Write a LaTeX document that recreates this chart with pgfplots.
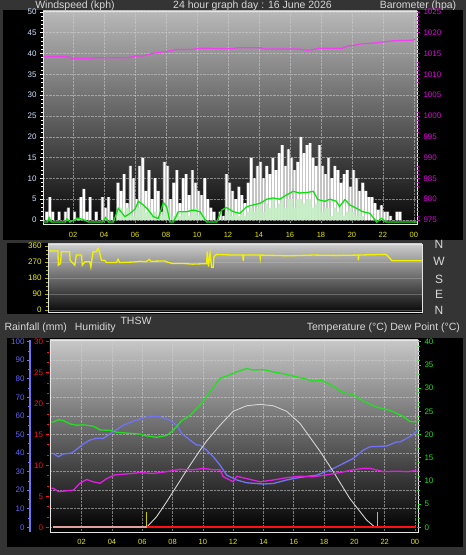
\documentclass[border=0pt]{standalone}
\usepackage{pgfplots}
\pgfplotsset{compat=1.18}
\usepackage{fontspec}
\setmainfont{Liberation Sans}
\definecolor{frame}{HTML}{343434}
\definecolor{txt}{HTML}{D8D8D8}
\definecolor{hourY}{HTML}{E8E800}
\definecolor{windlbl}{HTML}{D0E4FF}
\definecolor{baro}{HTML}{F040F0}
\definecolor{barolbl}{HTML}{E000E0}
\definecolor{avg}{HTML}{10E010}
\definecolor{speed}{HTML}{C4EEC4}
\definecolor{gustgray}{HTML}{C4C4C4}
\definecolor{dir}{HTML}{F2F200}
\definecolor{dirtick}{HTML}{B0B000}
\definecolor{hum}{HTML}{7272F2}
\definecolor{humlbl}{HTML}{6464FF}
\definecolor{rain}{HTML}{FF1010}
\definecolor{rainpale}{HTML}{E0A0A0}
\definecolor{temp}{HTML}{20E020}
\definecolor{dew}{HTML}{E020E0}
\definecolor{thsw}{HTML}{D4D4D4}
\definecolor{sun}{HTML}{C8C800}
\definecolor{bgtop}{HTML}{B8B8B8}
\definecolor{bgbot}{HTML}{080808}
\definecolor{gridc}{HTML}{D0D0D0}
\pgfplotsset{
  base/.style={
    scale only axis, anchor=south west,
    /pgf/number format/assume math mode=true,
    /pgf/number format/1000 sep={},
    tick label style={font=\fontsize{8}{8}\selectfont},
  },
}
\begin{document}
\begin{tikzpicture}
\useasboundingbox (0pt,0pt) rectangle (466pt,555pt);
\fill[frame] (0pt,0pt) rectangle (466pt,555pt);
\begin{scope}[font=\fontsize{10.5}{12}\selectfont, text=txt]
\node[anchor=base] at (75pt,546.3pt) {Windspeed (kph)};
\node[anchor=base] at (252.5pt,546.3pt) {24 hour graph day : 16 June 2026};
\node[anchor=base] at (418pt,546.3pt) {Barometer (hpa)};
\end{scope}
\fill[black] (3pt,315pt) rectangle (463pt,545pt);
\fill[black] (7pt,241pt) rectangle (422pt,312pt);
\fill[black] (7pt,8pt) rectangle (463pt,217pt);

% ---------------- Panel 1: wind ----------------
\begin{axis}[base,
  at={(43pt,331pt)}, width=374pt, height=213pt,
  xmin=0.06, xmax=24.2, ymin=-0.96, ymax=50.24,
  axis background/.style={top color=bgtop, bottom color=bgbot},
  axis line style={draw=white!90!black, line width=0.8pt},
  xtick={2,4,...,24}, xticklabels={02,04,06,08,10,12,14,16,18,20,22,00},
  xticklabel style={text=hourY, font=\fontsize{7.5}{8}\selectfont, yshift=-1.5pt},
  x tick style={draw=none}, xtick pos=bottom,
  ytick={0,5,...,50}, minor y tick num=4, ytick pos=left,
  yticklabel style={text=windlbl},
  tick align=outside, major tick length=3pt, minor tick length=2pt,
  y tick style={draw=white, line width=0.6pt},
  grid=major,
  major grid style={densely dotted, gridc, opacity=0.55, line width=0.6pt},
]
\addplot[const plot, draw=none, fill=gustgray] coordinates {
(0,0) (0.2,2) (0.4,5.5) (0.6,2) (0.8,0) (1.0,2) (1.2,0) (1.4,2) (1.6,3) (1.8,0) (2.0,2) (2.2,0.5) (2.4,5.5) (2.6,7.5) (2.8,2) (3.0,5.5) (3.2,0) (3.4,2) (3.6,0) (3.8,5.5) (4.0,3) (4.2,5.5) (4.4,2) (4.6,0) (4.8,9) (5.0,7) (5.2,11) (5.4,4) (5.6,13) (5.8,10) (6.0,5) (6.2,13) (6.4,15) (6.6,7) (6.8,12) (7.0,5) (7.2,10) (7.4,7) (7.6,2) (7.8,14) (8.0,13) (8.2,5) (8.4,9) (8.6,12) (8.8,4) (9.0,10) (9.2,11) (9.4,6) (9.6,12) (9.8,9) (10.0,7) (10.2,6) (10.4,10) (10.6,5) (10.8,3) (11.0,2) (11.2,0) (11.4,2) (11.6,1) (11.8,11) (12.0,9) (12.2,7) (12.4,5) (12.6,8) (12.8,6) (13.0,4) (13.2,9) (13.4,15) (13.6,10) (13.8,13) (14.0,14) (14.2,10) (14.4,13) (14.6,11) (14.8,15) (15.0,12) (15.2,16) (15.4,18) (15.6,13) (15.8,17) (16.0,15) (16.2,12) (16.4,14) (16.6,20) (16.8,16) (17.0,18) (17.2,18.5) (17.4,15) (17.6,13) (17.8,18) (18.0,13) (18.2,11) (18.4,15) (18.6,10) (18.8,13) (19.0,12) (19.2,9) (19.4,11) (19.6,12) (19.8,8) (20.0,12) (20.2,10) (20.4,7) (20.6,9) (20.8,7) (21.0,5.5) (21.2,5.5) (21.4,4) (21.6,2.5) (21.8,3.5) (22.0,2) (22.2,2) (22.4,1) (22.6,0) (22.8,2) (23.0,2) (23.2,0) (24.0,0)
} \closedcycle;
\addplot[ycomb, white, line width=1.6pt] coordinates {
(0.3,2) (0.5,5.5) (0.7,2) (1.1,2) (1.5,2) (1.7,3) (2.1,2) (2.5,5.5) (2.7,7.5) (2.9,2) (3.1,5.5) (3.5,2) (3.9,5.5) (4.1,3) (4.3,5.5) (4.5,2) (4.9,9) (5.1,7) (5.3,11) (5.5,4) (5.7,13) (5.9,10) (6.1,5) (6.3,13) (6.5,15) (6.7,7) (6.9,12) (7.1,5) (7.3,10) (7.5,7) (7.7,2) (7.9,14) (8.1,13) (8.3,5) (8.5,9) (8.7,12) (8.9,4) (9.1,10) (9.3,11) (9.5,6) (9.7,12) (9.9,9) (10.1,7) (10.3,6) (10.5,10) (10.7,5) (10.9,3) (11.1,2) (11.5,2) (11.7,1) (11.9,11) (12.1,9) (12.3,7) (12.5,5) (12.7,8) (12.9,6) (13.1,4) (13.3,9) (13.5,15) (13.7,10) (13.9,13) (14.1,14) (14.3,10) (14.5,13) (14.7,11) (14.9,15) (15.1,12) (15.3,16) (15.5,18) (15.7,13) (15.9,17) (16.1,15) (16.3,12) (16.5,14) (16.7,20) (16.9,16) (17.1,18) (17.3,18.5) (17.5,15) (17.7,13) (17.9,18) (18.1,13) (18.3,11) (18.5,15) (18.7,10) (18.9,13) (19.1,12) (19.3,9) (19.5,11) (19.7,12) (19.9,8) (20.1,12) (20.3,10) (20.5,7) (20.7,9) (20.9,7) (21.1,5.5) (21.3,5.5) (21.5,4) (21.7,2.5) (21.9,3.5) (22.1,2) (22.3,2) (22.5,1) (22.9,2) (23.1,2)
};
\addplot[const plot, draw=none, fill=speed, fill opacity=0.9] coordinates {
(0,0) (4.0,0.5) (4.2,0) (4.8,2) (5.0,3) (5.2,1) (5.4,3) (5.6,2) (5.8,1) (6.0,3) (6.2,3) (6.4,4) (6.6,2) (6.8,3) (7.0,1) (7.2,2) (7.4,0) (7.6,1) (7.8,3) (8.0,3) (8.2,0) (8.4,1) (8.6,2) (8.8,1) (9.0,2) (9.2,2) (9.4,1) (9.6,2) (9.8,3) (10.0,1) (10.2,2) (10.4,1) (10.6,0) (11.8,2) (12.0,2) (12.2,1) (12.4,2) (12.6,1) (12.8,2) (13.0,1) (13.2,2) (13.4,3) (13.6,2) (13.8,3) (14.0,4) (14.2,2) (14.4,4) (14.6,3) (14.8,5) (15.0,3) (15.2,4) (15.4,5) (15.6,3) (15.8,5) (16.0,5) (16.2,3) (16.4,5) (16.6,5) (16.8,4) (17.0,5) (17.2,5) (17.4,3) (17.6,4) (17.8,5) (18.0,2) (18.2,3) (18.4,3) (18.6,1) (18.8,3) (19.0,2) (19.2,3) (19.4,1) (19.6,2) (19.8,3) (20.0,2) (20.2,1) (20.4,2) (20.6,1) (20.8,0) (24,0)
} \closedcycle;
\addplot[avg, line width=1.3pt] coordinates {
(0.06,-0.5) (0.35,-0.5) (0.45,0.6) (0.6,-0.5) (1.5,-0.5) (1.6,0.3) (1.8,-0.5) (2.3,0.4) (2.6,0.2) (3.0,-0.5) (3.9,-0.5) (4.1,0.6) (4.3,-0.5) (4.6,-0.5) (4.92,2.8) (5.35,0.8) (5.68,1.6) (6.0,2.6) (6.22,4.5) (6.54,3.6) (6.86,2.4) (7.18,0.8) (7.5,0.4) (7.83,4.2) (8.04,3.2) (8.26,-0.5) (8.47,-0.5) (8.8,2) (9.33,2) (9.76,2.4) (10.19,2) (10.62,-0.5) (11.27,-0.5) (11.6,2.4) (11.9,3) (12.34,2) (12.77,1.6) (13.2,3.2) (13.6,3.6) (14.06,4) (14.5,5) (14.9,5.3) (15.35,5) (15.68,5.8) (16.2,6.9) (16.6,6.5) (17.1,6.6) (17.5,6.9) (17.8,4.9) (18.26,4.5) (18.58,5) (19.0,4.5) (19.2,3.2) (19.55,4.9) (19.87,3.6) (20.3,2.8) (20.7,2) (21.16,1.6) (21.6,-0.5) (21.9,0.4) (22.2,-0.5) (24.2,-0.5)
};
\end{axis}
\begin{axis}[base,
  at={(43pt,331pt)}, width=374pt, height=213pt,
  xmin=0.06, xmax=24.2, ymin=974.04, ymax=1025.24,
  axis y line*=right, hide x axis, y axis line style={draw=none},
  ytick={975,980,...,1025}, minor y tick num=4,
  tick align=outside, major tick length=3pt, minor tick length=2pt,
  y tick style={draw=barolbl, line width=0.6pt},
  yticklabel style={text=barolbl},
]
\addplot[baro, line width=1.2pt] coordinates {
(0.08,1014.3) (1.6,1014.3) (1.9,1013.9) (2.9,1013.8) (3.5,1014.0) (5.5,1014.0) (6.0,1014.4) (6.5,1014.4) (7.2,1015.1) (8.0,1015.5) (8.7,1016.0) (9.6,1016.0) (10.2,1016.3) (10.8,1016.3) (11.0,1016.2) (12.3,1016.2) (12.6,1016.4) (14.1,1016.4) (14.4,1016.1) (16.6,1016.1) (17.1,1015.8) (17.4,1015.9) (17.9,1016.3) (19.4,1016.3) (19.8,1016.9) (20.2,1017.0) (20.5,1017.3) (21.6,1017.6) (22.7,1018.1) (23.9,1018.2) (24.1,1018.5)
};
\end{axis}

% ---------------- Panel 2: wind direction ----------------
\begin{axis}[base,
  at={(48pt,243pt)}, width=374pt, height=68pt,
  xmin=0, xmax=24, ymin=-11.25, ymax=371.25,
  axis background/.style={top color=white!80!black, bottom color=bgbot},
  axis line style={draw=white!90!black, line width=0.8pt},
  xtick=\empty,
  ytick={0,90,...,360}, minor y tick num=3, ytick pos=left,
  tick align=outside, major tick length=3pt, minor tick length=2pt,
  y tick style={draw=dirtick, line width=0.6pt},
  yticklabel style={text=dir},
  ymajorgrids, major grid style={gridc, opacity=0.3, line width=0.5pt},
]
\addplot[dir, line width=1.3pt] coordinates {
(0.07,332) (0.64,332) (0.66,252) (0.8,261) (0.86,328) (1.39,328) (1.42,280) (1.72,252) (1.82,309) (2.15,309) (2.2,252) (2.36,271) (2.68,271) (2.75,242) (2.89,328) (3.11,328) (3.21,347) (3.3,328) (3.43,280) (3.64,280) (3.75,267) (4.4,267) (4.5,285) (4.6,267) (5.5,270) (5.89,274) (6.3,272) (6.5,285) (6.6,274) (7.5,276) (7.7,268) (8.03,261) (8.6,262) (9.3,258) (10.18,261) (10.22,330) (10.3,245) (10.4,320) (10.5,240) (10.6,240) (10.65,300) (10.82,313) (11.89,309) (12.5,309) (12.53,275) (12.56,309) (13.6,309) (13.62,290) (13.65,309) (15.5,305) (17.0,309) (18.5,307) (19.9,309) (19.92,280) (19.95,309) (21.6,313) (21.75,309) (22.07,277) (24.0,277)
};
\end{axis}

% ---------------- Panel 3: temperature / humidity ----------------
\begin{axis}[base,
  at={(50pt,23pt)}, width=368pt, height=192pt,
  xmin=-0.09, xmax=24.2, ymin=-2.53, ymax=100.9,
  axis background/.style={top color=white!78!black, bottom color=black},
  axis line style={draw=white!90!black, line width=0.8pt},
  xtick={2,4,...,24}, xticklabels={02,04,06,08,10,12,14,16,18,20,22,00},
  xticklabel style={text=hourY, font=\fontsize{7.5}{8}\selectfont, yshift=-3.5pt},
  x tick style={draw=none}, xtick pos=bottom,
  ytick={0,10,...,100}, yticklabel={}, y tick style={draw=none},
  grid=major,
  major grid style={densely dotted, gridc, opacity=0.55, line width=0.6pt},
]
\addplot[hum, line width=1.3pt] coordinates {
(0.0,39.8) (0.13,39.8) (0.46,38) (0.79,39.5) (1.34,40) (1.67,42) (2.1,44.8) (2.55,47) (2.99,48) (3.43,47.9) (4.09,51.5) (4.75,55) (5.41,57.2) (5.85,58.3) (6.51,60) (7.17,59.5) (7.83,57.7) (8.27,55) (8.6,50.6) (9.15,47) (9.59,44.3) (9.81,44.3) (10.25,41.6) (10.69,38) (11.13,33.5) (11.57,28.1) (12.23,25.5) (12.89,24) (13.99,23.3) (14.65,23.6) (15.53,25.5) (16.4,26.9) (17.51,28.1) (18.39,30.8) (19.05,33.5) (19.93,37.1) (20.59,41.6) (21.03,43.4) (22.13,43.8) (22.79,46) (23.01,46) (23.45,47.9) (23.89,50) (24.15,52.4)
};
\end{axis}
\begin{axis}[base,
  at={(50pt,23pt)}, width=368pt, height=192pt,
  xmin=-0.09, xmax=24.2, ymin=-1.01, ymax=40.37,
  axis y line*=right, hide x axis, y axis line style={draw=none},
  ytick={0,5,...,40}, minor y tick num=4,
  tick align=outside, major tick length=3pt, minor tick length=2pt,
  y tick style={draw=temp, line width=0.6pt},
  yticklabel style={text=temp},
]
\addplot[thsw, line width=0.9pt] coordinates {
(6.29,0) (6.95,2.3) (7.61,5.5) (8.27,8.9) (8.93,12.3) (9.81,16.6) (10.25,18.6) (11.13,22.0) (12.0,25.0) (12.89,26.2) (13.77,26.5) (14.65,26.2) (15.53,25.0) (16.41,22.4) (17.29,18.4) (17.73,16.4) (18.61,12.0) (19.7,6.2) (20.8,1.6) (21.36,0)
};
\addplot[dew, line width=1.3pt] coordinates {
(0.0,8.4) (0.13,8.4) (0.46,7.7) (1.45,8.0) (1.89,9.5) (2.33,10.3) (2.77,9.8) (3.21,9.5) (3.65,10.5) (4.2,11.3) (4.97,11.5) (5.85,11.8) (6.73,11.6) (7.61,12.0) (8.49,12.5) (9.37,12.4) (10.03,12.7) (10.69,12.4) (11.13,12.4) (11.35,10.9) (12.01,9.8) (12.23,11.0) (12.89,10.5) (13.77,9.8) (14.65,10.2) (15.53,10.7) (16.41,11.0) (17.29,10.9) (18.17,11.3) (19.05,11.8) (19.93,12.4) (20.59,12.7) (21.03,12.7) (21.91,12.0) (22.79,12.1) (23.45,12.0) (24.1,12.2)
};
\addplot[temp, line width=1.3pt] coordinates {
(0.0,22.7) (0.13,22.7) (0.5,23.2) (0.79,23.0) (1.23,22.3) (1.67,22.0) (2.1,22.1) (2.77,21.8) (3.21,21.0) (3.87,20.9) (4.31,20.5) (4.97,20.3) (5.85,20.1) (6.29,19.7) (6.95,19.4) (7.61,19.8) (8.05,20.9) (8.6,23.0) (9.15,24.1) (9.81,26.3) (10.47,29.2) (11.13,32.1) (11.57,32.6) (12.23,33.5) (12.89,34.2) (13.33,33.9) (13.99,34.0) (14.65,33.5) (15.31,33.1) (15.97,32.6) (16.63,32.1) (17.29,31.5) (17.84,31.7) (18.39,30.8) (19.27,29.0) (19.93,28.6) (20.59,27.2) (21.47,25.9) (22.35,25.2) (23.23,23.9) (23.67,22.8) (24.1,22.7)
};
\addplot[sun, line width=1pt] coordinates {(6.29,-0.2) (6.29,3.4)};
\addplot[sun, line width=1pt] coordinates {(21.54,-0.2) (21.54,3.4)};
\end{axis}
\begin{axis}[base,
  at={(50pt,23pt)}, width=368pt, height=192pt,
  xmin=-0.09, xmax=24.2, ymin=-0.76, ymax=30.27, hide axis,
]
\addplot[rainpale, line width=2.4pt] coordinates {(0.1,0) (24.1,0)};
\addplot[rain, line width=1.6pt] coordinates {(6.29,0) (24.1,0)};
\end{axis}
% humidity scale
\begin{axis}[base,
  at={(30pt,23pt)}, width=10pt, height=192pt,
  xmin=0, xmax=1, ymin=-2.53, ymax=100.9,
  axis y line*=left, hide x axis,
  y axis line style={draw=hum, line width=1.4pt},
  ytick={0,10,...,100}, minor y tick num=1,
  tick align=outside, major tick length=3pt, minor tick length=2pt,
  y tick style={draw=hum, line width=0.6pt},
  yticklabel style={text=humlbl, xshift=1pt},
]
\end{axis}
% rain scale
\begin{axis}[base,
  at={(49pt,23pt)}, width=10pt, height=192pt,
  xmin=0, xmax=1, ymin=-0.76, ymax=30.27,
  axis y line*=left, hide x axis,
  y axis line style={draw=none},
  ytick={0,5,...,30}, minor y tick num=2,
  tick align=outside, major tick length=3pt, minor tick length=2pt,
  y tick style={draw=rain, line width=0.6pt},
  yticklabel style={text=rain, xshift=0.5pt},
]
\end{axis}

\begin{scope}[font=\fontsize{10.5}{12}\selectfont, text=txt]
\node[anchor=base west] at (1pt,224pt) {Rainfall (mm)\hspace{5pt} Humidity};
\node[anchor=base] at (136pt,230.7pt) {THSW};
\node[anchor=base east] at (463.5pt,224pt) {Temperature (°C) Dew Point (°C)};
\end{scope}
\begin{scope}[font=\fontsize{12}{12}\selectfont, text=txt]
\node[anchor=base] at (439pt,306pt) {N};
\node[anchor=base] at (439pt,289.3pt) {W};
\node[anchor=base] at (439pt,271.7pt) {S};
\node[anchor=base] at (439pt,256pt) {E};
\node[anchor=base] at (439pt,240pt) {N};
\end{scope}
\end{tikzpicture}
\end{document}
